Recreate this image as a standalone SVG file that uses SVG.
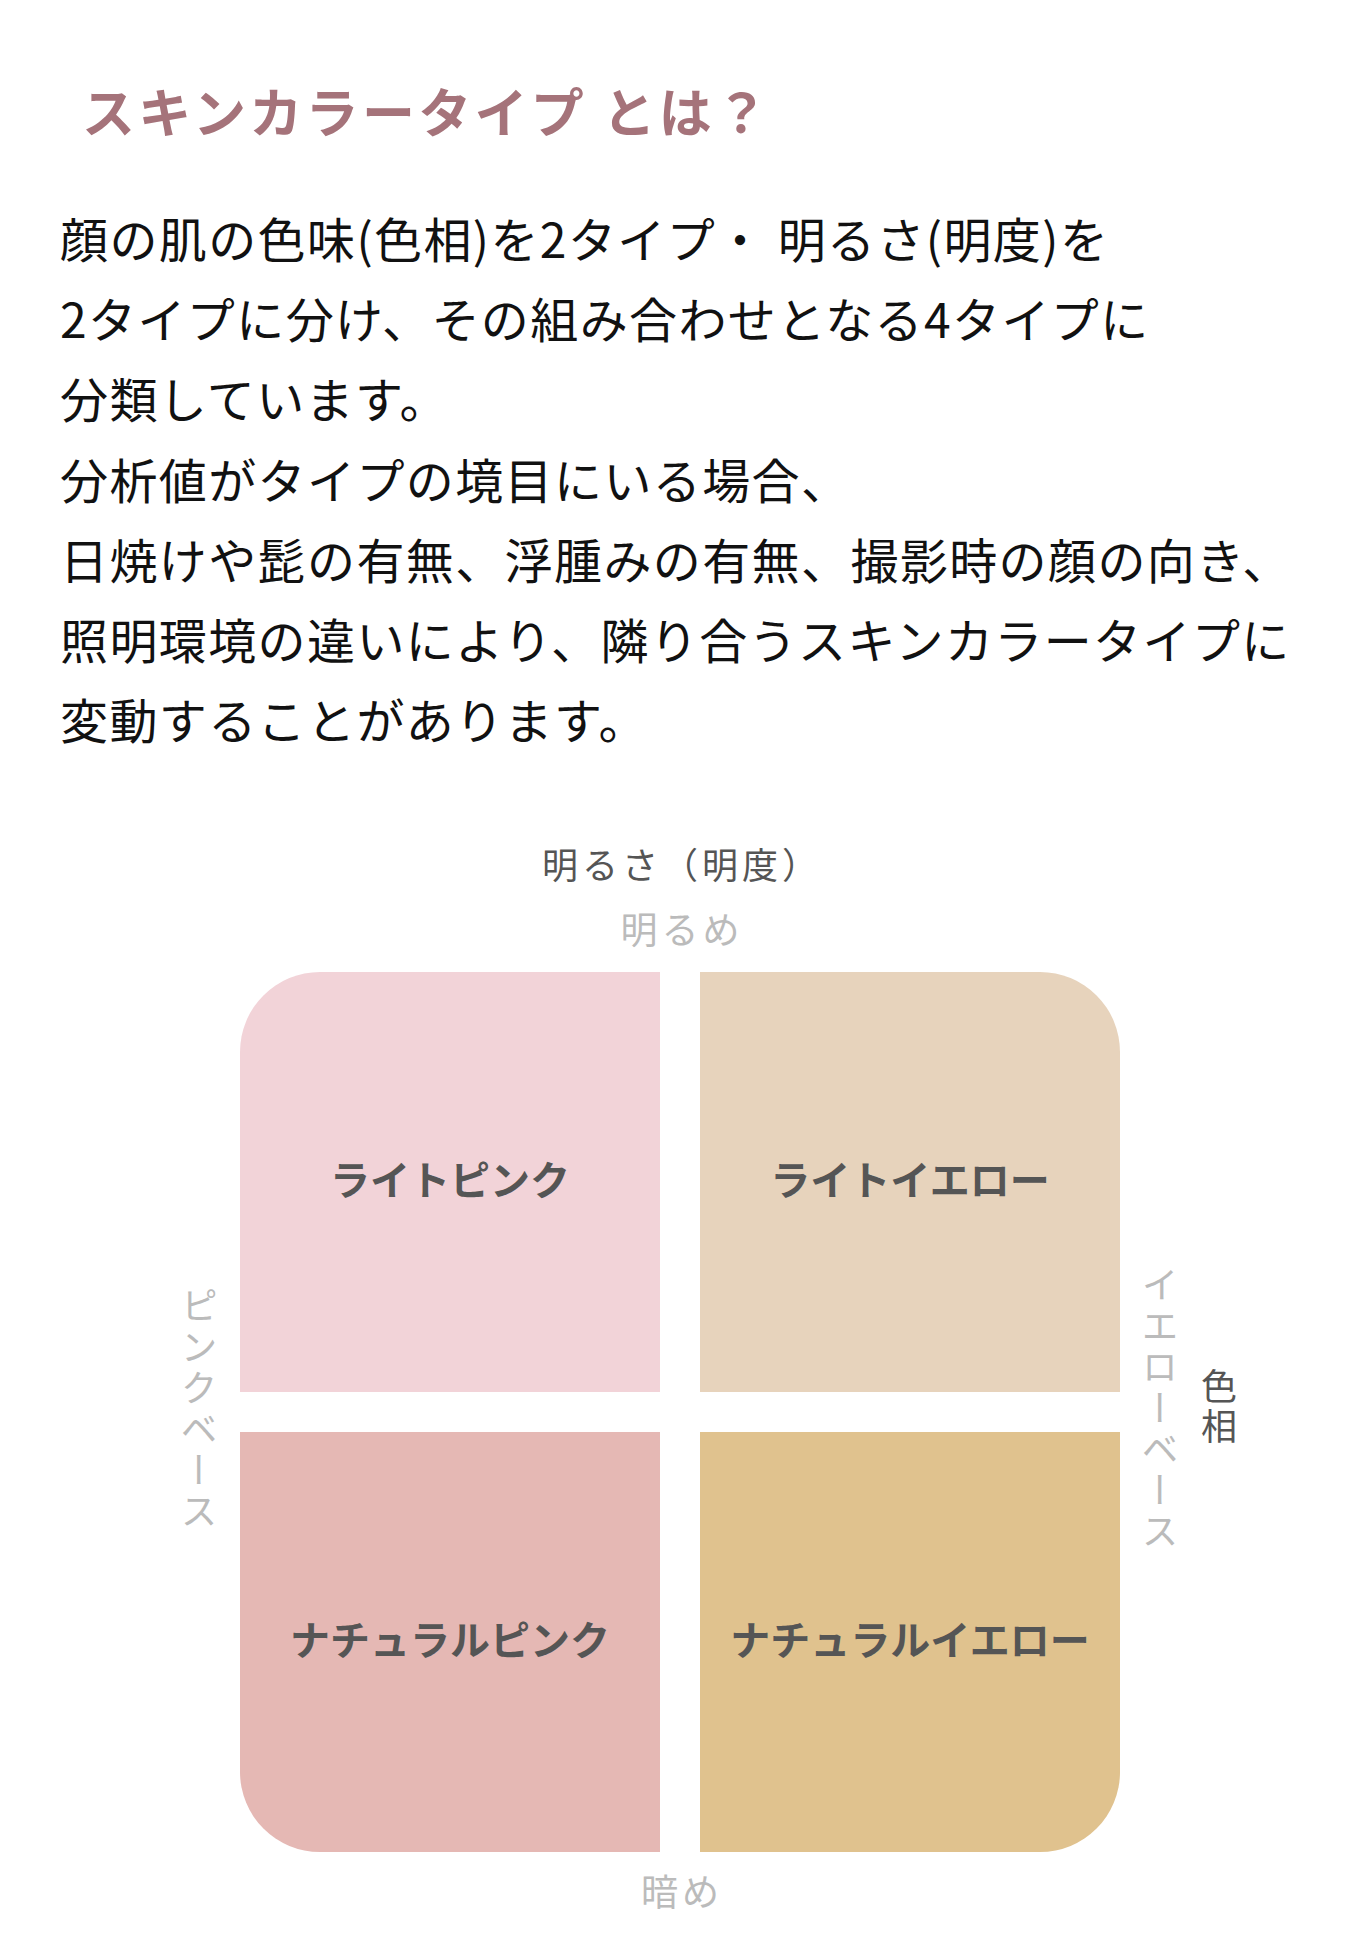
<svg xmlns="http://www.w3.org/2000/svg" width="1360" height="1960" viewBox="0 0 1360 1960">
<style>
.jp{font-family:"Noto Sans CJK JP","Noto Sans",sans-serif}
.title{font-size:53px;font-weight:700;fill:#a5737a;letter-spacing:3.3px}
.body{font-size:48px;fill:#111;letter-spacing:1.4px}
.axis{font-size:36px;fill:#555;letter-spacing:4px}
.sub{font-size:37px;fill:#bbb;letter-spacing:4px}
.vert{writing-mode:vertical-rl;text-orientation:upright}
.lbl{font-size:40px;font-weight:700;fill:#555}
</style>
<rect width="1360" height="1960" fill="#fff"/>
<g id="title"><text class="jp title" x="82" y="133">スキンカラータイプ とは？</text></g>
<g id="description" class="jp body">
<text x="60" y="258">顔の肌の色味(色相)を2タイプ・ 明るさ(明度)を</text>
<text x="60" y="338">2タイプに分け、その組み合わせとなる4タイプに</text>
<text x="60" y="418">分類しています。</text>
<text x="60" y="499">分析値がタイプの境目にいる場合、</text>
<text x="60" y="579">日焼けや髭の有無、浮腫みの有無、撮影時の顔の向き、</text>
<text x="60" y="659">照明環境の違いにより、隣り合うスキンカラータイプに</text>
<text x="60" y="739">変動することがあります。</text>
</g>
<g id="axis-brightness">
<text class="jp axis" x="682" y="879" text-anchor="middle">明るさ（明度）</text>
<text class="jp sub" x="682" y="944" text-anchor="middle">明るめ</text>
<text class="jp sub" x="682" y="1906" text-anchor="middle">暗め</text>
</g>
<g id="axis-hue">
<text class="jp sub vert" x="199" y="1410" text-anchor="middle">ピンクベース</text>
<text class="jp sub vert" x="1160" y="1410" text-anchor="middle">イエローベース</text>
<text class="jp axis vert" x="1219" y="1408" text-anchor="middle">色相</text>
</g>
<g id="light-pink">
<path d="M240 1052 A80 80 0 0 1 320 972 H660 V1392 H240 Z" fill="#f2d3d8"/>
<text class="jp lbl" x="450" y="1195" text-anchor="middle">ライトピンク</text>
</g>
<g id="light-yellow">
<path d="M700 972 H1040 A80 80 0 0 1 1120 1052 V1392 H700 Z" fill="#e7d3bc"/>
<text class="jp lbl" x="910" y="1195" text-anchor="middle">ライトイエロー</text>
</g>
<g id="natural-pink">
<path d="M240 1432 H660 V1852 H320 A80 80 0 0 1 240 1772 Z" fill="#e5b8b4"/>
<text class="jp lbl" x="450" y="1655" text-anchor="middle">ナチュラルピンク</text>
</g>
<g id="natural-yellow">
<path d="M700 1432 H1120 V1772 A80 80 0 0 1 1040 1852 H700 Z" fill="#e0c28e"/>
<text class="jp lbl" x="910" y="1655" text-anchor="middle">ナチュラルイエロー</text>
</g>
<g id="connectors"/>
</svg>
